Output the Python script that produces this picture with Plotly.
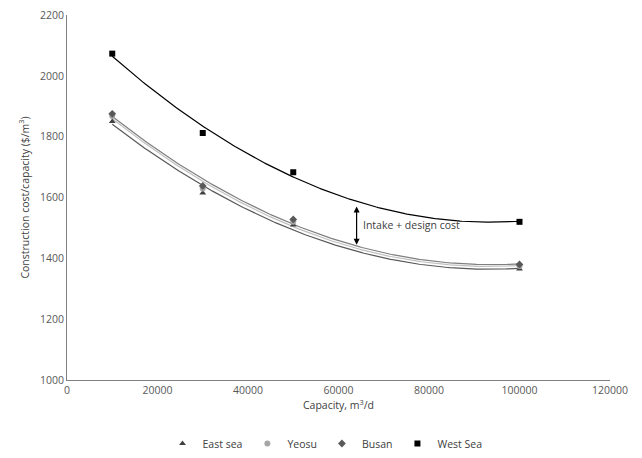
import numpy as np
import plotly.graph_objects as go

capacity = [10000, 30000, 50000, 100000]
east_sea = [1850, 1615, 1510, 1365]
yeosu = [1868, 1630, 1520, 1375]
busan = [1875, 1638, 1528, 1380]
west_sea = [2073, 1812, 1683, 1520]

series = [
    ("East sea", east_sea, "triangle-up", "#404040", "#595959"),
    ("Yeosu", yeosu, "circle", "#A6A6A6", "#BFBFBF"),
    ("Busan", busan, "diamond", "#595959", "#7F7F7F"),
    ("West Sea", west_sea, "square", "#000000", "#000000"),
]

fig = go.Figure()
xs = np.linspace(min(capacity), max(capacity), 200)
for name, vals, sym, mcol, lcol in series:
    coef = np.polyfit(capacity, vals, 2)
    fig.add_trace(go.Scatter(x=xs, y=np.polyval(coef, xs), mode="lines",
                             line=dict(color=lcol, width=1.2), showlegend=False,
                             hoverinfo="skip"))
for name, vals, sym, mcol, lcol in series:
    fig.add_trace(go.Scatter(x=capacity, y=vals, mode="markers", name=name,
                             marker=dict(symbol=sym, color=mcol, size=6)))

fig.add_annotation(x=64000, y=1445, ax=64000, ay=1575, xref="x", yref="y",
                   axref="x", ayref="y", text="", showarrow=True,
                   arrowhead=2, startarrowhead=2, arrowside="end+start",
                   arrowsize=1, arrowwidth=1.2, arrowcolor="#000000")
fig.add_annotation(x=65000, y=1510, xref="x", yref="y", text="Intake + design cost",
                   showarrow=False, xanchor="left",
                   font=dict(size=10.5, color="#404040"))

axis_font = dict(family="Open Sans, Liberation Sans, sans-serif", size=10.5, color="#595959")
fig.update_layout(
    width=634, height=450,
    margin=dict(l=59, r=32, t=7, b=78, autoexpand=False),
    plot_bgcolor="white", paper_bgcolor="white",
    font=axis_font,
    xaxis=dict(range=[0, 120000], dtick=20000, showgrid=False, zeroline=False,
               showline=True, linecolor="#808080", linewidth=1, ticks="",
               tickformat="d", automargin=False, ticklabeloverflow="allow",
               title=dict(text="Capacity, m<sup>3</sup>/d", font=dict(size=10.5, color="#404040"), standoff=6)),
    yaxis=dict(range=[1000, 2200], dtick=200, showgrid=False, zeroline=False,
               showline=True, linecolor="#808080", linewidth=1, ticks="",
               automargin=False, ticklabeloverflow="allow",
               title=dict(text="Construction cost/capacity ($/m<sup>3</sup>)", font=dict(size=10.5, color="#404040"), standoff=8)),
    legend=dict(orientation="h", xref="container", x=0.5, xanchor="center",
                yref="container", y=0.0, yanchor="bottom",
                font=dict(size=10.5, color="#404040"), itemwidth=30,
                tracegroupgap=0),
)
fig.write_html("out.html")
